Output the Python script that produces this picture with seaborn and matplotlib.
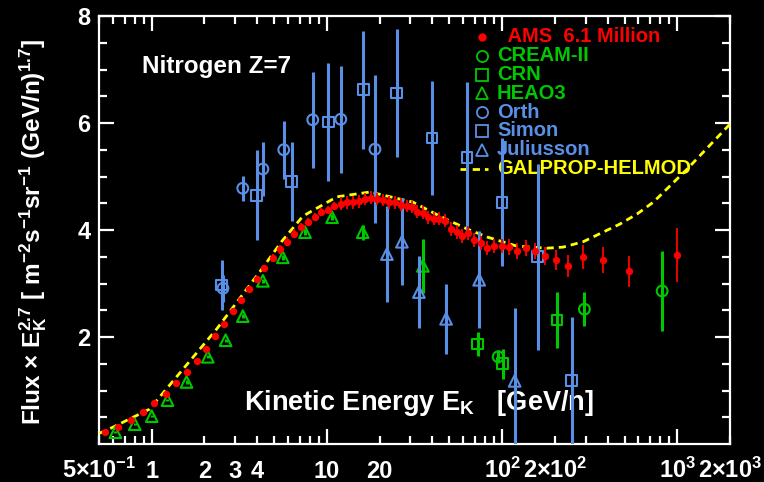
import matplotlib
matplotlib.use("Agg")
import matplotlib.pyplot as plt
import seaborn as sns
import numpy as np
import pandas as pd
from matplotlib.ticker import FixedLocator, NullFormatter

# ---------------- data ----------------
ams_x = [0.54, 0.64, 0.76, 0.89, 1.03, 1.2, 1.37, 1.58, 1.81, 2.04,
         2.29, 2.58, 2.9, 3.23, 3.58, 3.98, 4.37,
         4.92, 5.39, 5.9, 6.48, 7.1, 7.8, 8.5, 9.2, 10.1, 11.0,
         12.0, 13.0, 14.1, 15.3, 16.5, 17.9, 19.3, 20.9, 22.6, 24.5, 26.5, 28.6, 30.6,
         32.7, 35.3, 37.9, 40.9, 43.6, 47.2,
         51.2, 55.3, 59.0, 63.8, 69.0, 75.8, 82.1, 89.9, 99.9,
         109.6, 121.5, 137, 155,
         176, 203, 238, 290, 377, 530, 1000]
ams_y = [0.22, 0.32, 0.45, 0.60, 0.77, 0.93, 1.14, 1.35, 1.55, 1.78,
         2.02, 2.24, 2.49, 2.69, 2.90, 3.08, 3.29,
         3.48, 3.64, 3.78, 3.93, 4.06, 4.15, 4.24, 4.34, 4.37, 4.45,
         4.49, 4.52, 4.52, 4.54, 4.58, 4.60, 4.58, 4.56, 4.52, 4.52, 4.47, 4.45, 4.43,
         4.34, 4.32, 4.24, 4.21, 4.21, 4.17,
         4.02, 3.96, 3.89, 3.94, 3.81, 3.76, 3.66, 3.70, 3.70,
         3.68, 3.61, 3.66, 3.61,
         3.51, 3.44, 3.33, 3.50, 3.44, 3.23, 3.53]
ams_err = [0.02, 0.02, 0.02, 0.02, 0.02, 0.02, 0.02, 0.02, 0.02, 0.02,
           0.05, 0.05, 0.05, 0.05, 0.05, 0.05, 0.05,
           0.08, 0.08, 0.08, 0.08, 0.08, 0.08, 0.08, 0.08, 0.08, 0.08,
           0.12, 0.12, 0.12, 0.12, 0.12, 0.12, 0.12, 0.12, 0.12, 0.12, 0.12, 0.12, 0.12,
           0.12, 0.12, 0.12, 0.12, 0.12, 0.12,
           0.13, 0.13, 0.13, 0.13, 0.13, 0.13, 0.13, 0.13, 0.13,
           0.15, 0.15, 0.15, 0.15,
           0.17, 0.18, 0.20, 0.22, 0.25, 0.29, 0.50]

cream_x = [95, 295, 820]
cream_y = [1.63, 2.52, 2.86]
cream_err = [0.12, 0.32, 0.75]

crn_x = [72.7, 101, 206]
crn_y = [1.87, 1.50, 2.32]
crn_err = [0.22, 0.28, 0.53]

heao_x = [0.62, 0.80, 1.0, 1.23, 1.58, 2.09, 2.64, 3.31, 4.31, 5.6, 7.5, 10.7, 16.0, 35.3]
heao_y = [0.22, 0.37, 0.52, 0.82, 1.16, 1.63, 1.94, 2.39, 3.05, 3.49, 3.96, 4.24, 3.96, 3.33]
heao_err = [0.02, 0.02, 0.02, 0.02, 0.03, 0.03, 0.03, 0.04, 0.04, 0.05, 0.05, 0.06, 0.14, 0.50]

orth_x = [2.55, 3.31, 4.31, 5.67, 8.3, 12.0, 18.8]
orth_y = [2.91, 4.78, 5.14, 5.50, 6.06, 6.07, 5.51]
orth_err = [0.25, 0.23, 0.50, 0.54, 0.90, 1.00, 1.38]

simon_x = [2.51, 3.98, 6.3, 10.2, 16.1, 25.0, 39.8, 63.0, 100, 160, 250]
simon_y = [2.97, 4.65, 4.90, 6.02, 6.62, 6.56, 5.72, 5.35, 4.52, 3.50, 1.18]
simon_err = [0.47, 0.84, 0.74, 1.10, 1.10, 1.20, 1.06, 1.41, 1.20, 1.74, 1.19]

jul_x = [22.0, 26.8, 33.5, 47.9, 74.0, 118]
jul_y = [3.55, 3.78, 2.84, 2.34, 3.07, 1.18]
jul_err = [0.90, 0.81, 0.68, 0.66, 0.91, 1.36]

model_x = [0.5, 0.54, 0.97, 2.35, 4.25, 5.5, 7.3, 11.4, 17.6, 31, 44, 63, 82, 121,
           180, 223, 290, 377, 470, 590, 730, 1140, 2000]
model_y = [0.20, 0.24, 0.65, 2.15, 3.27, 3.78, 4.26, 4.62, 4.71, 4.52, 4.26, 4.02, 3.87, 3.70,
           3.66, 3.68, 3.78, 3.96, 4.11, 4.30, 4.52, 5.14, 5.98]

xtick_vals = [0.5, 1, 2, 3, 4, 10, 20, 100, 200, 1000, 2000]
xtick_labels = ["5×10$^{-1}$", "1", "2", "3", "4", "10", "20",
                "10$^{2}$", "2×10$^{2}$", "10$^{3}$", "2×10$^{3}$"]
ytick_vals = [2, 4, 6, 8]
ytick_labels = ["2", "4", "6", "8"]

legend_labels = ["  AMS  6.1 Million", "CREAM-II", "CRN", "HEAO3", "Orth", "Simon",
                 "Juliusson", "GALPROP-HELMOD"]

# ---------------- style ----------------
sns.set_theme(style="dark")
FONT = "Liberation Sans"
plt.rcParams.update({
    "font.family": [FONT, "DejaVu Sans"],
    "font.weight": "bold",
    "mathtext.fontset": "custom",
    "mathtext.rm": "Liberation Sans:bold",
    "mathtext.it": "Liberation Sans:bold:italic",
    "mathtext.bf": "Liberation Sans:bold",
    "figure.facecolor": "black",
    "axes.facecolor": "black",
    "savefig.facecolor": "black",
    "axes.grid": False,
})

RED = "#ff0000"
GREEN = "#00c800"
BLUE = "#5a8fe6"
YELLOW = "#ffff00"
WHITE = "white"

fig = plt.figure(figsize=(7.64, 4.82), dpi=100)
L, R, B, T = 99, 730, 444, 16
ax = fig.add_axes([L / 764, 1 - B / 482, (R - L) / 764, (B - T) / 482])
ax.set_facecolor("black")

# model curve
mdf = pd.DataFrame({"x": model_x, "y": model_y})
sns.lineplot(data=mdf, x="x", y="y", ax=ax, color=YELLOW, lw=2.0, sort=False,
             estimator=None, zorder=3, legend=False)
ax.lines[-1].set_dashes((2.6, 1.8))


def plot_set(xs, ys, errs, color, marker, ms, elw, z=4):
    ax.errorbar(xs, ys, yerr=errs, fmt="none", ecolor=color, elinewidth=elw,
                capsize=0, zorder=z)
    df = pd.DataFrame({"x": xs, "y": ys})
    sns.scatterplot(data=df, x="x", y="y", ax=ax, marker=marker, s=ms,
                    facecolors="none", edgecolor=color,
                    linewidth=1.5, zorder=z + 0.5, legend=False)


plot_set(heao_x, heao_y, heao_err, GREEN, "^", 70, 2.2)
plot_set(cream_x, cream_y, cream_err, GREEN, "o", 60, 2.2)
plot_set(crn_x, crn_y, crn_err, GREEN, "s", 60, 2.2)
plot_set(orth_x, orth_y, orth_err, BLUE, "o", 60, 2.2, z=6)
plot_set(simon_x, simon_y, simon_err, BLUE, "s", 60, 2.2, z=6)
plot_set(jul_x, jul_y, jul_err, BLUE, "^", 70, 2.2, z=6)

# AMS
ax.errorbar(ams_x, ams_y, yerr=ams_err, fmt="none", ecolor=RED, elinewidth=1.3,
            capsize=0, zorder=7)
adf = pd.DataFrame({"x": ams_x, "y": ams_y})
sns.scatterplot(data=adf, x="x", y="y", ax=ax, color=RED, s=28, linewidth=0,
                zorder=8, legend=False)

# axes
ax.set_xscale("log")
ax.set_xlim(0.5, 2000)
ax.set_ylim(0.0, 8.0)
ax.set_xlabel("")
ax.set_ylabel("")
ax.set_xticks(xtick_vals, minor=False)
minors = []
for dec in [0.1, 1, 10, 100, 1000]:
    for k in range(2, 10):
        v = k * dec
        if 0.5 <= v <= 2000:
            minors.append(v)
ax.xaxis.set_minor_locator(FixedLocator(minors))
ax.xaxis.set_minor_formatter(NullFormatter())
ax.set_xticklabels(xtick_labels)
ax.set_yticks(ytick_vals)
ax.set_yticklabels(ytick_labels)
ax.yaxis.set_minor_locator(FixedLocator([v / 2 for v in range(1, 16)]))

for sp in ax.spines.values():
    sp.set_color(WHITE)
    sp.set_linewidth(1.6)
    sp.set_visible(True)

ax.tick_params(which="both", direction="in", colors=WHITE, top=True, right=True,
               bottom=True, left=True)
ax.tick_params(which="major", length=11, width=1.6)
ax.tick_params(which="minor", length=5.5, width=1.6)
ax.tick_params(axis="x", which="major", labelsize=17, pad=24.5)
ax.tick_params(axis="y", which="major", labelsize=17, pad=6)
for lab in ax.get_xticklabels():
    lab.set_verticalalignment("baseline")
    lab.set_fontweight("bold")
for lab in ax.get_yticklabels():
    lab.set_fontweight("bold")
# x major ticks at 0.5,2,3,4,20,200,2000 drawn with minor length
for t, v in zip(ax.xaxis.get_major_ticks(), xtick_vals):
    if v not in (1, 10, 100, 1000):
        t.tick1line.set_markersize(5.5)
        t.tick2line.set_markersize(5.5)

# texts
ax.text(0.068, 0.883, "Nitrogen Z=7", transform=ax.transAxes, color=WHITE,
        fontsize=17.5, fontweight="bold", va="center", ha="left")
ax.text(0.507, 0.096, "Kinetic Energy E$_{\\mathrm{K}}$   [GeV/n]", transform=ax.transAxes,
        color=WHITE, fontsize=19.5, fontweight="bold", va="center", ha="center", zorder=2)
fig.text(33 / 764, 1 - 232 / 482,
         "Flux × E$_{\\mathrm{K}}^{2.7}$ [ m$^{-2}$s$^{-1}$sr$^{-1}$ (GeV/n)$^{1.7}$]",
         rotation=90, color=WHITE, fontsize=17.6, fontweight="bold", va="center", ha="center")

# legend (manual, in axes fraction)
leg_colors = [RED, GREEN, GREEN, GREEN, BLUE, BLUE, BLUE, YELLOW]
leg_markers = ["o", "o", "s", "^", "o", "s", "^", None]
mx = (482 - L) / (R - L)
tx = (497 - L) / (R - L)
for i, (lab, c, m) in enumerate(zip(legend_labels, leg_colors, leg_markers)):
    yp = 37 + i * 18.8
    yf = 1 - (yp - T) / (B - T)
    if m is None:
        ax.plot([mx - 0.035, mx + 0.01], [yf, yf], transform=ax.transAxes, color=c,
                lw=2.0, dashes=(2.6, 1.8), zorder=2)
    elif i == 0:
        ax.plot([mx], [yf], transform=ax.transAxes, marker="o", ms=5, color=c,
                ls="none", zorder=2)
    else:
        ax.plot([mx], [yf], transform=ax.transAxes, marker=m, ms=8, mfc="none",
                mec=c, mew=1.3, ls="none", zorder=2)
    ax.text(tx, yf, lab, transform=ax.transAxes, color=c, fontsize=14.5,
            fontweight="bold", va="center", ha="left", zorder=2)

fig.savefig("out.png", dpi=100, facecolor="black")
